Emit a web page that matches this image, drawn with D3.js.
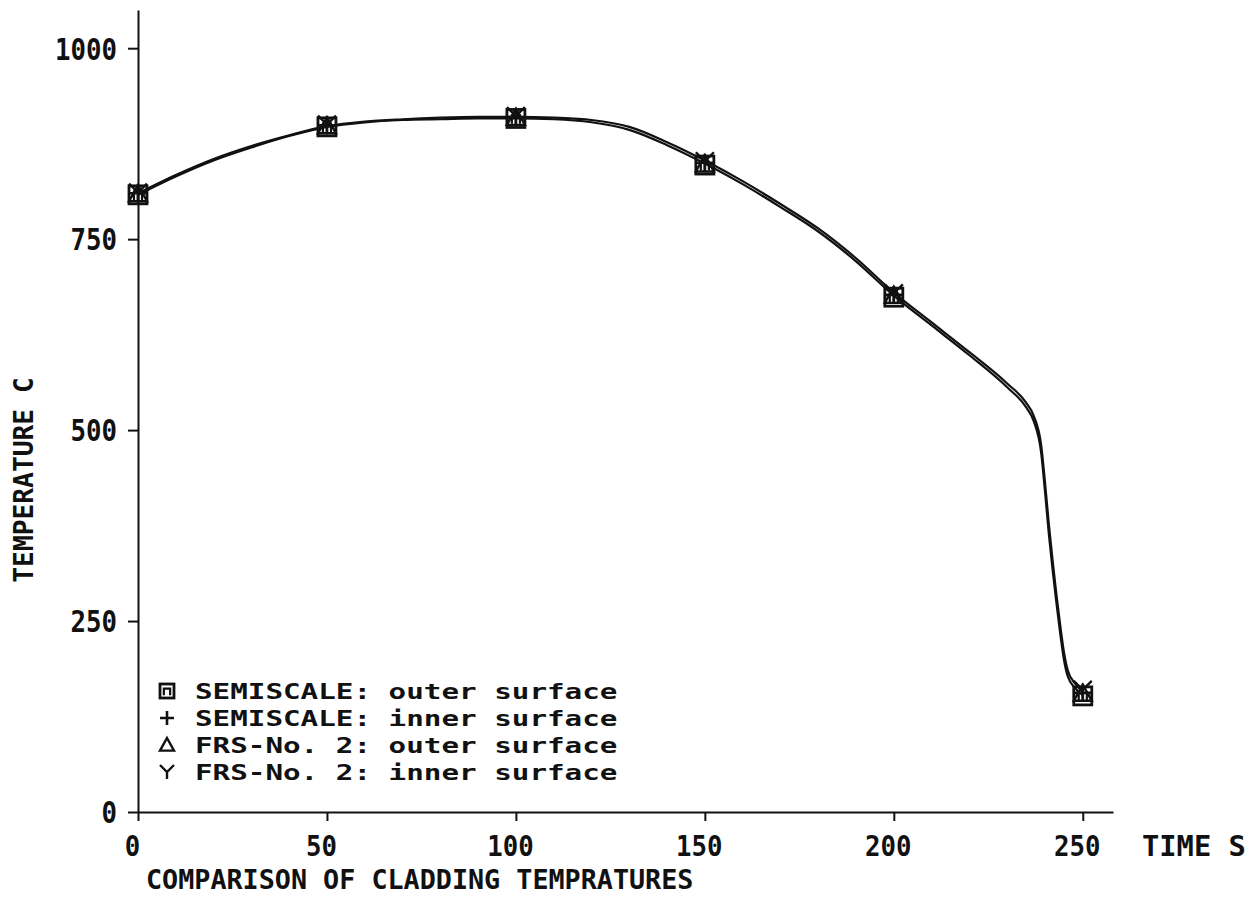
<!DOCTYPE html>
<html>
<head>
<meta charset="utf-8">
<script src="https://cdn.jsdelivr.net/npm/d3@7"></script>
<style>
  body { margin: 0; background: #fff; }
  text { font-family: "DejaVu Sans Mono", monospace; fill: #111; font-weight: bold; }
</style>
</head>
<body>
<div id="chart"></div>
<script>
// tick labels
const timeTicks = [0, 50, 100, 150, 200, 250];
const tempTicks = [0, 250, 500, 750, 1000];

// marker readings every 50 s, one list per series
const markerTime = [0, 50, 100, 150, 200, 250];
const semiscaleOuter = [808, 897, 908, 847, 674, 152];
const semiscaleInner = [810, 899, 910, 850, 677, 156];
const frsOuter = [809, 898, 909, 848, 676, 155];
const frsInner = [811, 900, 911, 852, 679, 160];

// the two traced curves
const curveTime = [0, 10, 20, 30, 40, 50, 60, 70, 80, 90, 100, 110, 120, 130, 140, 150,
    160, 170, 180, 190, 200, 210, 220, 230, 235, 237, 239, 240, 241, 242, 243, 244, 245, 246, 248, 250];
const semiscaleCurve = [808, 832, 853, 870, 885, 897, 903, 906, 907, 908, 908, 907, 903, 893, 873, 849,
    822, 792, 760, 721, 676, 637, 598, 556, 530, 512, 470, 420, 365, 318, 275, 235, 200, 178, 162, 153];
const frsCurve = [810, 834, 855, 872, 886, 898, 904, 907, 909, 910, 910, 909, 906, 897, 877, 853,
    826, 796, 764, 725, 680, 641, 602, 561, 536, 519, 480, 432, 378, 330, 286, 246, 210, 186, 168, 158];

const legendLabels = [
    "SEMISCALE: outer surface",
    "SEMISCALE: inner surface",
    "FRS-No. 2: outer surface",
    "FRS-No. 2: inner surface"
];
const legendSymbols = ["square", "plus", "triangle", "wye"];

const W = 1258, H = 897;

const svg = d3.select("#chart")
    .append("svg")
    .attr("width", W)
    .attr("height", H);

const x = d3.scaleLinear().domain([0, 258]).range([138, 1113]);
const y = d3.scaleLinear().domain([0, 1050]).range([812, 10]);

// plotter text is monospaced, so stretch each string to its cell width
function fit(sel, adv) {
    sel.each(function () {
        const t = d3.select(this);
        const n = t.text().length;
        t.attr("textLength", n * adv).attr("lengthAdjust", "spacingAndGlyphs");
    });
}

// axes
const yAxis = svg.append("g")
    .attr("transform", `translate(${x(0)},0)`)
    .call(d3.axisLeft(y).tickValues(tempTicks).tickFormat(d3.format("d"))
        .tickSize(10).tickSizeOuter(0).tickPadding(11));
yAxis.selectAll("path, line").attr("stroke", "#111").attr("stroke-width", 2);
yAxis.selectAll("text").style("font-size", "30px").attr("dy", "0.36em").call(fit, 15.5);

const xAxis = svg.append("g")
    .attr("transform", `translate(0,${y(0)})`)
    .call(d3.axisBottom(x).tickValues(timeTicks).tickFormat(d3.format("d"))
        .tickSize(9).tickSizeOuter(0).tickPadding(15));
xAxis.selectAll("path, line").attr("stroke", "#111").attr("stroke-width", 2);
xAxis.selectAll("text").style("font-size", "28px").attr("dx", -6).call(fit, 15.5);

// axis titles
svg.append("text")
    .attr("transform", "translate(33,480) rotate(-90)")
    .attr("text-anchor", "middle")
    .style("font-size", "27px")
    .text("TEMPERATURE C")
    .call(fit, 15.8);

svg.append("text")
    .attr("x", 1142)
    .attr("y", 856)
    .style("font-size", "28px")
    .text("TIME S")
    .call(fit, 17.3);

svg.append("text")
    .attr("x", 146)
    .attr("y", 889)
    .style("font-size", "27px")
    .text("COMPARISON OF CLADDING TEMPRATURES")
    .call(fit, 16.1);

// curves
const line = d3.line()
    .x(d => x(d[0]))
    .y(d => y(d[1]))
    .curve(d3.curveMonotoneX);

[semiscaleCurve, frsCurve].forEach(vals => {
    svg.append("path")
        .datum(curveTime.map((t, i) => [t, vals[i]]))
        .attr("d", line)
        .attr("fill", "none")
        .attr("stroke", "#111")
        .attr("stroke-width", 2.2);
});

// markers
function drawSymbol(g, type, s) {
    const h = s / 2;
    if (type === "square") {
        g.append("rect").attr("x", -h).attr("y", -h).attr("width", s).attr("height", s)
            .attr("fill", "none").attr("stroke", "#111").attr("stroke-width", 2.8);
        g.append("path").attr("d", `M${-h * 0.45},${h * 0.6}V${-h * 0.35}H${h * 0.45}V${h * 0.6}`)
            .attr("fill", "none").attr("stroke", "#111").attr("stroke-width", 2.2);
    } else if (type === "plus") {
        g.append("path").attr("d", `M${-h},0H${h}M0,${-h}V${h}`)
            .attr("stroke", "#111").attr("stroke-width", 2.6);
    } else if (type === "triangle") {
        g.append("path").attr("d", `M0,${-h}L${h},${h * 0.8}H${-h}Z`)
            .attr("fill", "none").attr("stroke", "#111").attr("stroke-width", 2.4);
    } else {
        g.append("path").attr("d", `M${-h},${-h}L0,0L${h},${-h}M0,0V${h}`)
            .attr("fill", "none").attr("stroke", "#111").attr("stroke-width", 2.4);
    }
}

const seriesValues = [semiscaleOuter, semiscaleInner, frsOuter, frsInner];
seriesValues.forEach((vals, k) => {
    markerTime.forEach((t, i) => {
        const g = svg.append("g").attr("transform", `translate(${x(t)},${y(vals[i])})`);
        drawSymbol(g, legendSymbols[k], 18);
    });
});

// legend
const legend = svg.append("g").attr("transform", "translate(167,691)");
legendLabels.forEach((label, i) => {
    const row = legend.append("g").attr("transform", `translate(0,${i * 27})`);
    drawSymbol(row, legendSymbols[i], 14);
    row.append("text")
        .attr("x", 28)
        .attr("y", 8)
        .style("font-size", "22px")
        .text(label)
        .call(fit, 17.6);
});
</script>
</body>
</html>
